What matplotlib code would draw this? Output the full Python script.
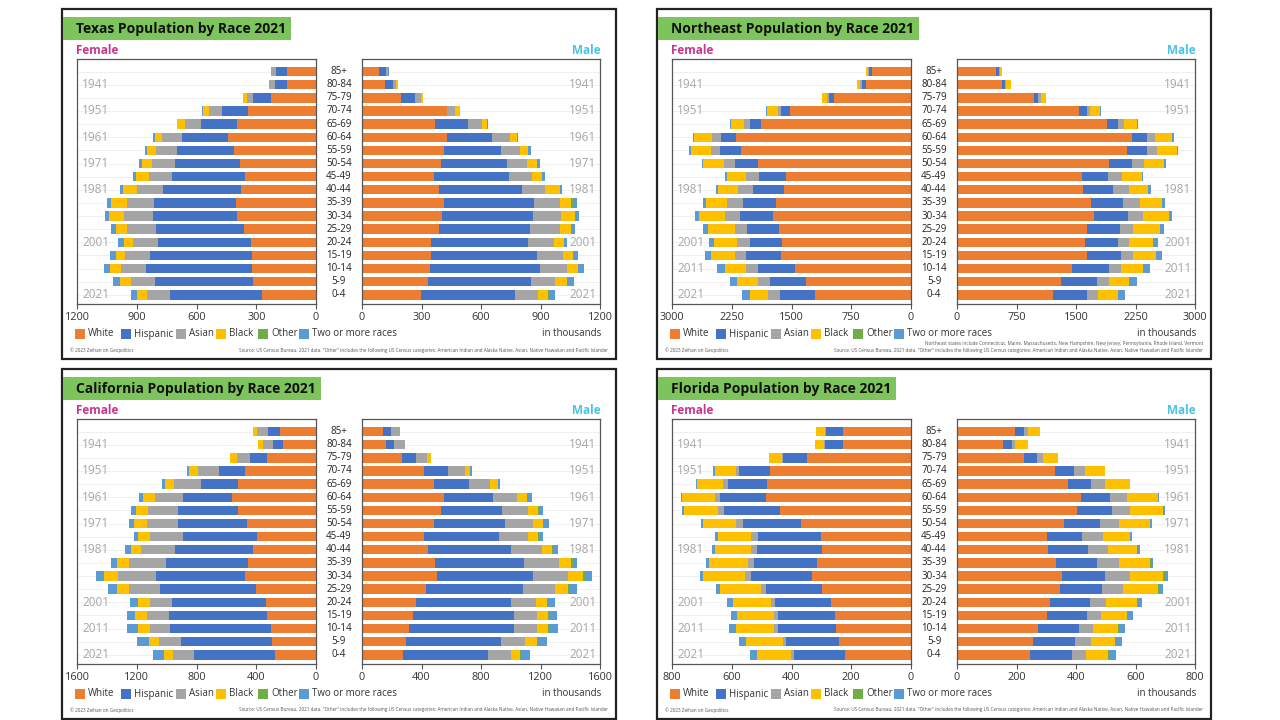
import matplotlib
matplotlib.use('Agg')
import matplotlib.pyplot as plt
from matplotlib.patches import Rectangle
from matplotlib.transforms import blended_transform_factory

plt.rcParams['font.family'] = ['Open Sans', 'DejaVu Sans']

# ---------------- data (thousands), rows top->bottom ----------------
ages = ["85+", "80-84", "75-79", "70-74", "65-69", "60-64", "55-59", "50-54", "45-49",
        "40-44", "35-39", "30-34", "25-29", "20-24", "15-19", "10-14", "5-9", "0-4"]
races = ["White", "Hispanic", "Asian", "Black", "Other", "Two or more races"]
race_colors = ["#ed7d31", "#4472c4", "#a5a5a5", "#ffc000", "#70ad47", "#5b9bd5"]

# Texas
tx_m_white = [88, 116, 197, 428, 370, 430, 415, 399, 365, 386, 415, 404, 386, 350, 350, 343, 332, 296]
tx_m_hisp = [34, 41, 72, 0, 166, 227, 284, 332, 375, 421, 451, 457, 462, 487, 531, 554, 520, 475]
tx_m_asian = [8, 13, 27, 41, 69, 90, 99, 103, 116, 117, 130, 144, 148, 129, 130, 135, 123, 117]
tx_m_black = [0, 10, 11, 26, 25, 33, 41, 50, 54, 72, 60, 69, 58, 52, 52, 55, 57, 51]
tx_m_other = [0, 0, 0, 0, 0, 0, 0, 0, 0, 0, 8, 6, 4, 3, 3, 3, 2, 2]
tx_m_two = [4, 0, 0, 0, 4, 9, 13, 13, 14, 13, 19, 12, 16, 15, 21, 27, 35, 34]

tx_f_white = [144, 148, 227, 341, 398, 443, 413, 384, 357, 375, 402, 396, 362, 326, 323, 323, 314, 272]
tx_f_hisp = [56, 56, 90, 133, 180, 229, 283, 326, 366, 393, 411, 422, 442, 469, 511, 529, 493, 463]
tx_f_asian = [27, 32, 27, 63, 82, 101, 108, 112, 117, 129, 138, 148, 144, 122, 123, 128, 123, 114]
tx_f_black = [0, 0, 24, 32, 36, 34, 45, 54, 66, 72, 78, 72, 58, 49, 49, 53, 54, 50]
tx_f_other = [0, 0, 0, 0, 0, 0, 0, 0, 0, 0, 0, 3, 3, 2, 2, 2, 2, 2]
tx_f_two = [0, 0, 0, 3, 4, 11, 9, 11, 11, 15, 18, 20, 20, 25, 26, 30, 34, 29]

# Northeast
ne_m_white = [496, 564, 965, 1534, 1895, 2201, 2147, 1917, 1574, 1588, 1687, 1723, 1642, 1615, 1633, 1453, 1317, 1204]
ne_m_hisp = [32, 40, 59, 99, 130, 190, 244, 293, 330, 383, 406, 429, 410, 410, 438, 460, 451, 438]
ne_m_asian = [17, 16, 32, 45, 82, 108, 135, 145, 171, 194, 217, 194, 167, 149, 148, 149, 149, 140]
ne_m_black = [28, 57, 72, 126, 166, 217, 244, 252, 257, 248, 270, 325, 339, 294, 285, 284, 257, 243]
ne_m_other = [0, 0, 0, 0, 0, 0, 0, 5, 0, 0, 0, 0, 0, 0, 0, 0, 0, 0]
ne_m_two = [0, 0, 0, 5, 8, 13, 18, 22, 13, 32, 36, 36, 45, 67, 76, 90, 99, 91]

ne_f_white = [492, 568, 961, 1525, 1886, 2192, 2134, 1922, 1574, 1592, 1696, 1728, 1651, 1615, 1628, 1457, 1322, 1200]
ne_f_hisp = [31, 45, 68, 103, 135, 199, 261, 284, 334, 388, 415, 419, 406, 406, 443, 465, 451, 442]
ne_f_asian = [15, 23, 27, 46, 81, 108, 113, 144, 158, 190, 194, 190, 158, 158, 144, 144, 149, 153]
ne_f_black = [30, 36, 67, 135, 158, 221, 257, 262, 248, 248, 271, 329, 329, 293, 293, 275, 257, 226]
ne_f_other = [0, 0, 0, 0, 0, 0, 0, 0, 0, 0, 0, 0, 0, 0, 0, 0, 0, 0]
ne_f_two = [0, 0, 0, 5, 13, 14, 18, 13, 23, 32, 36, 45, 68, 68, 81, 99, 94, 95]

# California
ca_m_white = [142, 161, 269, 419, 486, 553, 534, 486, 414, 445, 491, 503, 433, 366, 342, 313, 298, 277]
ca_m_hisp = [50, 56, 97, 156, 233, 325, 404, 474, 505, 558, 597, 645, 650, 637, 678, 710, 638, 570]
ca_m_asian = [61, 72, 72, 116, 140, 161, 178, 192, 197, 205, 235, 240, 216, 164, 159, 156, 163, 156]
ca_m_black = [0, 0, 29, 36, 55, 73, 68, 68, 68, 72, 82, 96, 84, 77, 72, 72, 78, 60]
ca_m_other = [0, 0, 0, 0, 0, 0, 6, 6, 5, 5, 12, 17, 15, 5, 5, 5, 5, 5]
ca_m_two = [0, 0, 0, 12, 17, 28, 30, 30, 31, 31, 31, 44, 50, 50, 53, 60, 62, 63]

ca_f_white = [238, 219, 327, 472, 520, 561, 525, 464, 392, 419, 455, 472, 404, 337, 327, 303, 296, 272]
ca_f_hisp = [82, 72, 116, 175, 252, 327, 399, 460, 496, 522, 546, 596, 640, 628, 657, 674, 609, 548]
ca_f_asian = [72, 65, 89, 142, 176, 190, 204, 209, 226, 228, 248, 258, 205, 144, 149, 137, 149, 138]
ca_f_black = [31, 31, 41, 63, 65, 79, 77, 84, 75, 72, 81, 91, 84, 80, 77, 79, 67, 62]
ca_f_other = [0, 0, 0, 0, 0, 0, 0, 0, 0, 0, 0, 0, 0, 0, 0, 0, 0, 0]
ca_f_two = [0, 0, 0, 9, 19, 29, 32, 32, 28, 41, 44, 53, 60, 57, 56, 73, 77, 72]

# Florida
fl_m_white = [195, 155, 225, 331, 373, 417, 405, 360, 301, 307, 333, 354, 345, 313, 301, 271, 257, 247]
fl_m_hisp = [30, 30, 44, 62, 78, 97, 115, 121, 120, 132, 139, 145, 142, 135, 137, 140, 140, 138]
fl_m_asian = [12, 10, 20, 36, 47, 57, 60, 65, 69, 69, 74, 81, 72, 54, 46, 45, 53, 50]
fl_m_black = [42, 42, 50, 67, 82, 103, 114, 104, 93, 98, 104, 114, 115, 102, 86, 85, 82, 73]
fl_m_other = [0, 0, 0, 0, 0, 0, 0, 0, 0, 4, 4, 6, 4, 3, 3, 3, 2, 2]
fl_m_two = [0, 0, 0, 3, 3, 6, 6, 6, 6, 6, 4, 10, 13, 15, 19, 21, 19, 25]

fl_f_white = [226, 229, 348, 473, 482, 485, 438, 368, 300, 298, 314, 330, 298, 268, 254, 251, 242, 220]
fl_f_hisp = [60, 59, 80, 102, 130, 154, 189, 196, 212, 217, 211, 204, 188, 187, 192, 195, 177, 172]
fl_f_asian = [2, 3, 4, 12, 17, 18, 18, 21, 22, 19, 21, 21, 17, 15, 12, 12, 9, 10]
fl_f_black = [30, 29, 44, 70, 86, 108, 114, 110, 113, 123, 129, 140, 136, 127, 124, 127, 123, 113]
fl_f_other = [0, 0, 0, 0, 0, 0, 0, 0, 0, 0, 0, 0, 0, 0, 0, 0, 0, 0]
fl_f_two = [0, 0, 0, 6, 6, 6, 9, 8, 10, 9, 10, 12, 15, 20, 21, 24, 25, 24]

tx_ticks = [0, 300, 600, 900, 1200]
ne_ticks = [0, 750, 1500, 2250, 3000]
ca_ticks = [0, 400, 800, 1200, 1600]
fl_ticks = [0, 200, 400, 600, 800]

# birth-year labels: row index (top->bottom) of each year
year_rows = {"1941": 1, "1951": 3, "1961": 5, "1971": 7, "1981": 9, "2001": 13, "2011": 15, "2021": 17}

SOURCE = ('Source: US Census Bureau, 2021 data. "Other" includes the following US Census categories: '
          'American Indian and Alaska Native, Asian, Native Hawaiian and Pacific Islander')
NE_NOTE = ('Northeast states include Connecticut, Maine, Massachusetts, New Hampshire, New Jersey, '
           'Pennsylvania, Rhode Island, Vermont')

# ---------------- drawing ----------------
WP, HP = 1280, 720
fig = plt.figure(figsize=(12.8, 7.2), dpi=100)
fig.patch.set_facecolor('white')
renderer = fig.canvas.get_renderer()


def fx(x):
    return x / WP


def fy(y):
    return 1 - y / HP


def rect_px(x0, y0, x1, y1, **kw):
    r = Rectangle((fx(x0), fy(y1)), (x1 - x0) / WP, (y1 - y0) / HP,
                  transform=fig.transFigure, **kw)
    fig.patches.append(r)
    return r


AX_TOP, AX_BOT = 59, 304
Y_LO, Y_HI = -0.7, 17.96
n = len(ages)
ypos = [n - 1 - i for i in range(n)]


def stack(ax, series):
    left = [0] * n
    for vals, col in zip(series, race_colors):
        ax.barh(ypos, vals, left=left, height=0.72, color=col, linewidth=0, zorder=2)
        left = [a + b for a, b in zip(left, vals)]


def style_axis(ax, xmax, ticks, inverted):
    ax.set_ylim(Y_LO, Y_HI)
    if inverted:
        ax.set_xlim(xmax, 0)
    else:
        ax.set_xlim(0, xmax)
    ax.set_yticks([])
    ax.set_xticks(ticks)
    ax.set_xticklabels([str(t) for t in ticks])
    ax.tick_params(axis='x', direction='out', length=3.5, width=0.8, color='#555555',
                   labelsize=7.8, pad=2, labelcolor='#333333')
    for s in ax.spines.values():
        s.set_color('#555555')
        s.set_linewidth(0.9)
    ax.hlines(ypos, 0, xmax, color='#f0f0f0', lw=0.7, zorder=0)


def draw_panel(ox, oy, title, xmax, ticks, female, male, years_left, years_right, note=None):
    # outer frame
    rect_px(ox + 62, oy + 9, ox + 616, oy + 359, fill=False, ec='#222222', lw=1.6, zorder=1)
    # title with green box
    t = fig.text(fx(ox + 76), fy(oy + 28.5), title, fontsize=10, fontweight='bold',
                 ha='left', va='center', color='#111111', zorder=5)
    bb = t.get_window_extent(renderer)
    right = bb.x1 + 5
    rect_px(ox + 63, oy + 17, right, oy + 40, fc='#7cc45b', ec='none', zorder=2)
    fig.text(fx(ox + 76), fy(oy + 50), 'Female', fontsize=8.5, fontweight='bold',
             color='#c8378e', ha='left', va='center')
    fig.text(fx(ox + 601), fy(oy + 50), 'Male', fontsize=8.5, fontweight='bold',
             color='#4cc3e3', ha='right', va='center')

    axF = fig.add_axes([fx(ox + 77), fy(oy + AX_BOT), (316 - 77) / WP, (AX_BOT - AX_TOP) / HP])
    axM = fig.add_axes([fx(ox + 362), fy(oy + AX_BOT), (600 - 362) / WP, (AX_BOT - AX_TOP) / HP])
    stack(axF, female)
    stack(axM, male)
    style_axis(axF, xmax, ticks, True)
    style_axis(axM, xmax, ticks, False)

    trF = blended_transform_factory(axF.transAxes, axF.transData)
    trM = blended_transform_factory(axM.transAxes, axM.transData)
    for yr in years_left:
        axF.text(0.022, ypos[year_rows[yr]], yr, transform=trF, ha='left', va='center',
                 fontsize=8.5, color='#a6a6a6', zorder=3)
    for yr in years_right:
        axM.text(0.985, ypos[year_rows[yr]], yr, transform=trM, ha='right', va='center',
                 fontsize=8.5, color='#a6a6a6', zorder=3)

    # age labels between the halves
    trA = blended_transform_factory(fig.transFigure, axF.transData)
    for a, yp in zip(ages, ypos):
        fig.text(fx(ox + 339), yp, a, transform=trA, ha='center', va='center',
                 fontsize=7, color='#222222')

    # legend
    lx = [75, 121, 176, 216, 258, 299]
    for x0, lab, col in zip(lx, races, race_colors):
        rect_px(ox + x0, oy + 329, ox + x0 + 10, oy + 339, fc=col, ec='none')
        fig.text(fx(ox + x0 + 13), fy(oy + 334), lab, fontsize=7, color='#333333',
                 ha='left', va='center')
    fig.text(fx(ox + 601), fy(oy + 334), 'in thousands', fontsize=7, color='#333333',
             ha='right', va='center')

    # footer
    fig.text(fx(ox + 70), fy(oy + 350), '\u00a9 2023 Zeihan on Geopolitics', fontsize=3.3,
             color='#555555', ha='left', va='center')
    fig.text(fx(ox + 608), fy(oy + 350), SOURCE, fontsize=3.3, color='#555555',
             ha='right', va='center')
    if note:
        fig.text(fx(ox + 608), fy(oy + 343), note, fontsize=3.3, color='#555555',
                 ha='right', va='center')


all_years = ["1941", "1951", "1961", "1971", "1981", "2001", "2011", "2021"]

draw_panel(0, 0, 'Texas Population by Race 2021', 1200, tx_ticks,
           [tx_f_white, tx_f_hisp, tx_f_asian, tx_f_black, tx_f_other, tx_f_two],
           [tx_m_white, tx_m_hisp, tx_m_asian, tx_m_black, tx_m_other, tx_m_two],
           ["1941", "1951", "1961", "1971", "1981", "2001", "2021"],
           ["1941", "1951", "1961", "1971", "1981", "2001", "2021"])

draw_panel(595, 0, 'Northeast Population by Race 2021', 3000, ne_ticks,
           [ne_f_white, ne_f_hisp, ne_f_asian, ne_f_black, ne_f_other, ne_f_two],
           [ne_m_white, ne_m_hisp, ne_m_asian, ne_m_black, ne_m_other, ne_m_two],
           ["1941", "1951", "1981", "2001", "2011", "2021"],
           ["1941", "1951", "1981", "2001", "2011", "2021"], note=NE_NOTE)

draw_panel(0, 360, 'California Population by Race 2021', 1600, ca_ticks,
           [ca_f_white, ca_f_hisp, ca_f_asian, ca_f_black, ca_f_other, ca_f_two],
           [ca_m_white, ca_m_hisp, ca_m_asian, ca_m_black, ca_m_other, ca_m_two],
           all_years, all_years)

draw_panel(595, 360, 'Florida Population by Race 2021', 800, fl_ticks,
           [fl_f_white, fl_f_hisp, fl_f_asian, fl_f_black, fl_f_other, fl_f_two],
           [fl_m_white, fl_m_hisp, fl_m_asian, fl_m_black, fl_m_other, fl_m_two],
           ["1941", "1951", "1981", "2001", "2011", "2021"],
           all_years)

fig.savefig('out.png', dpi=100, facecolor='white')
